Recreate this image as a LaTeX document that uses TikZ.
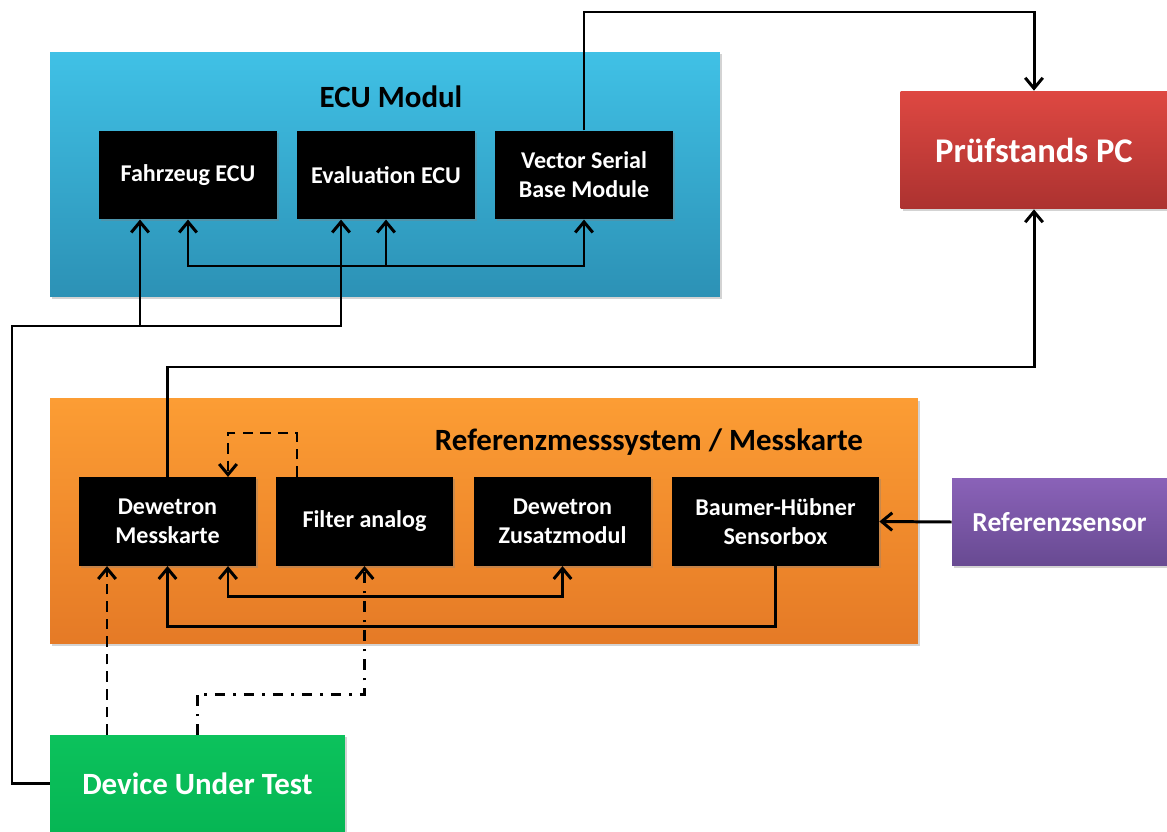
\documentclass[tikz,border=0pt]{standalone}
\usepackage{fontspec}
\setmainfont{Carlito}
\usetikzlibrary{arrows.meta,shadows}

\definecolor{ecutop}{RGB}{64,193,230}
\definecolor{ecubot}{RGB}{44,145,181}
\definecolor{reftop}{RGB}{252,157,52}
\definecolor{refbot}{RGB}{229,122,38}
\definecolor{pctop}{RGB}{222,72,66}
\definecolor{pcbot}{RGB}{172,50,48}
\definecolor{sensortop}{RGB}{138,98,184}
\definecolor{sensorbot}{RGB}{104,74,146}
\definecolor{duttop}{RGB}{12,194,92}
\definecolor{dutbot}{RGB}{6,182,84}

\tikzset{
	boxshadow/.style={drop shadow={shadow xshift=1.2pt,shadow yshift=-1.2pt,opacity=.35}},
	frame/.style={rectangle,draw=none,minimum height=4.9cm,boxshadow},
	frametitle/.style={font=\fontsize{17.6}{20}\selectfont\bfseries},
	unit/.style={rectangle,fill=black,text=white,align=center,minimum width=3.54cm,minimum height=1.77cm,font=\fontsize{13.7}{16.5}\selectfont\bfseries,boxshadow},
	block/.style={rectangle,text=white,align=center,boxshadow},
	wire/.style={line width=1.7pt},
	dashedline/.style={dash pattern=on 6pt off 4pt},
	dashdotline/.style={dash pattern=on 6pt off 4.5pt on 1.5pt off 4.5pt}
}

\begin{document}
\begin{tikzpicture}[x=0.02cm,y=-0.02cm,>={Straight Barb[length=6pt,width=10pt]}]
	\useasboundingbox (0,0) rectangle (1167,832);

	\node[frame,minimum width=13.4cm,top color=ecutop,bottom color=ecubot] (ecu) at (385,174.5) {};
	\node[frame,minimum width=17.36cm,top color=reftop,bottom color=refbot] (ref) at (484,521) {};
	\node[frametitle] (ecutitle) at (391,97) {ECU Modul};
	\node[frametitle] (reftitle) at (649,442) {Referenzmesssystem / Messkarte};

	\node[unit,minimum width=3.56cm] (fzg) at (188,175) {Fahrzeug ECU};
	\node[unit,minimum width=3.56cm] (eval) at (386,175) {Evaluation ECU};
	\node[unit,minimum width=3.56cm] (vsbm) at (584,175) {Vector Serial\\Base Module};
	\node[unit] (dmk) at (167.5,521.5) {Dewetron\\Messkarte};
	\node[unit] (filt) at (364.5,521.5) {Filter analog};
	\node[unit] (zus) at (562.5,521.5) {Dewetron\\Zusatzmodul};
	\node[unit,minimum width=4.14cm] (baum) at (775.5,521.5) {Baumer-Hübner\\Sensorbox};

	\node[block,minimum width=5.34cm,minimum height=2.36cm,top color=pctop,bottom color=pcbot,font=\fontsize{19.7}{22}\selectfont\bfseries] (pc) at (1034,150) {Prüfstands PC};
	\node[block,minimum width=4.3cm,minimum height=1.76cm,top color=sensortop,bottom color=sensorbot,font=\fontsize{15.6}{18}\selectfont\bfseries] (refs) at (1059.5,522) {Referenzsensor};
	\node[block,minimum width=5.9cm,minimum height=1.94cm,top color=duttop,bottom color=dutbot,font=\fontsize{17.6}{20}\selectfont\bfseries] (dut) at (197.5,783.5) {Device Under Test};

	\coordinate (ecubus) at (386,266);
	\coordinate (dutloop) at (12,326);
	\coordinate (fzgin) at (140,326);
	\coordinate (evalin) at (341,326);
	\coordinate (pcin) at (1034,12);
	\coordinate (pcout) at (1034,367);
	\coordinate (fbkA) at (297,433);
	\coordinate (fbkB) at (228,433);
	\coordinate (busA) at (228,596);
	\coordinate (busC) at (775.5,626);
	\coordinate (dutA) at (107,650);
	\coordinate (dutB) at (364.5,694);

	\draw[wire,<->] (fzg.south) |- (ecubus) -| (vsbm.south);
	\draw[wire,->] (ecubus) -- (eval.south);
	\draw[wire,->] (dut.west) -| (dutloop) -| (evalin |- eval.south);
	\draw[wire,->] (fzgin) -- (fzgin |- fzg.south);
	\draw[wire,->] (vsbm.north) |- (pcin) -- (pc.north);
	\draw[wire,<-] (pc.south) -- (pcout) -| (dmk.north);
	\draw[wire,dashedline,->] (fbkA |- filt.north) -- (fbkA) -- (fbkB) -- (fbkB |- dmk.north);
	\draw[wire,<->] (busA |- dmk.south) -- (busA) -| (zus.south);
	\draw[wire,->] (baum.south) -- (busC) -| (dmk.south);
	\draw[wire,->] (refs.west) -- (baum.east);
	\draw[wire,dashedline,->] (dutA |- dut.north) -- (dutA |- dmk.south);
	\draw[wire,dashdotline,->] (dut.north) |- (dutB) -- (filt.south);
\end{tikzpicture}
\end{document}
